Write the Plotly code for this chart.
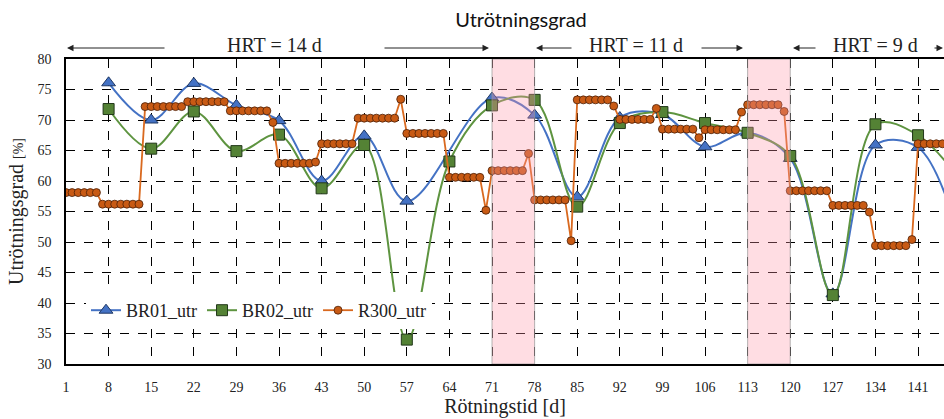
import plotly.graph_objects as go

# ---------------- data ----------------
days_weekly = [8, 15, 22, 29, 36, 43, 50, 57, 71, 78, 85, 92, 99, 106, 113, 120, 127, 134, 141, 148]
br01 = [76.1, 70.0, 76.0, 72.4, 69.9, 60.0, 67.4, 56.7, 73.6, 70.8, 57.4, 70.4, 70.9, 65.6, 67.9, 63.7, 41.5, 65.9, 65.5, 50.0]

days_br02 = [8, 15, 22, 29, 36, 43, 50, 57, 64, 71, 78, 85, 92, 99, 106, 113, 120, 127, 134, 141, 148]
br02 = [71.8, 65.3, 71.4, 64.9, 67.6, 58.8, 65.9, 34.0, 63.2, 72.4, 73.3, 55.8, 69.5, 71.3, 69.5, 67.9, 64.1, 41.3, 69.3, 67.5, 60.0]

days_r300 = list(range(1, 147))
r300 = [
    58.1, 58.1, 58.1, 58.1, 58.1, 58.1,                  # 1-6
    56.2, 56.2, 56.2, 56.2, 56.2, 56.2, 56.2,            # 7-13
    72.2, 72.2, 72.2, 72.2, 72.2, 72.2, 72.2,            # 14-20
    73.0, 73.0, 73.0, 73.0, 73.0, 73.0, 73.0,            # 21-27
    71.5, 71.5, 71.5, 71.5, 71.5, 71.5, 71.5,            # 28-34
    69.6,                                                # 35
    62.9, 62.9, 62.9, 62.9, 62.9, 62.9, 63.1,            # 36-42
    66.1, 66.1, 66.1, 66.1, 66.1, 66.1,                  # 43-48
    70.3, 70.3, 70.3, 70.3, 70.3, 70.3, 70.3,            # 49-55
    73.4,                                                # 56
    67.8, 67.8, 67.8, 67.8, 67.8, 67.8, 67.8,            # 57-63
    60.6, 60.6, 60.6, 60.6, 60.6, 60.6,                  # 64-69
    55.2,                                                # 70
    61.7, 61.7, 61.7, 61.7, 61.7, 61.7,                  # 71-76
    64.5,                                                # 77
    56.9, 56.9, 56.9, 56.9, 56.9, 56.9,                  # 78-83
    50.2,                                                # 84
    73.3, 73.3, 73.3, 73.3, 73.3, 73.3,                  # 85-90
    72.3,                                                # 91
    70.1, 70.1, 70.1, 70.1, 70.1, 70.1,                  # 92-97
    71.9,                                                # 98
    68.5, 68.5, 68.5, 68.5, 68.5, 68.5,                  # 99-104
    67.1,                                                # 105
    68.4, 68.4, 68.4, 68.4, 68.4, 68.4,                  # 106-111
    71.3,                                                # 112
    72.5, 72.5, 72.5, 72.5, 72.5, 72.5,                  # 113-118
    71.4,                                                # 119
    58.4, 58.4, 58.4, 58.4, 58.4, 58.4, 58.4,            # 120-126
    56.0, 56.0, 56.0, 56.0, 56.0, 56.0,                  # 127-132
    54.9,                                                # 133
    49.4, 49.4, 49.4, 49.4, 49.4, 49.4,                  # 134-139
    50.4,                                                # 140
    66.1, 66.1, 66.1, 66.1, 66.1, 66.1,                  # 141-146
]

x_ticks = [1, 8, 15, 22, 29, 36, 43, 50, 57, 64, 71, 78, 85, 92, 99, 106, 113, 120, 127, 134, 141]
shaded_periods = [(71, 78), (113, 120)]
hrt_labels = ["HRT = 14 d", "HRT = 11 d", "HRT = 9 d"]

# ---------------- layout geometry ----------------
W, H = 944, 419
ML, MR, MT, MB = 66, 0, 59, 55
PW = W - ML - MR
PH = H - MT - MB


def px_x(px):
    return (px - ML) / PW


def px_y(py):
    return (H - MB - py) / PH


serif = "Liberation Serif"

fig = go.Figure()

fig.add_trace(go.Scatter(
    x=days_weekly, y=br01, name="BR01_utr", mode="lines+markers",
    line=dict(color="#4472C4", width=2, shape="spline", smoothing=1),
    marker=dict(symbol="triangle-up", size=12, color="#4472C4", line=dict(color="#1F3864", width=1)),
))
fig.add_trace(go.Scatter(
    x=days_br02, y=br02, name="BR02_utr", mode="lines+markers",
    line=dict(color="#5E9440", width=2, shape="spline", smoothing=1),
    marker=dict(symbol="square", size=11, color="#548235", line=dict(color="#22381A", width=1)),
))
fig.add_trace(go.Scatter(
    x=days_r300, y=r300, name="R300_utr", mode="lines+markers",
    line=dict(color="#D9691F", width=1.8),
    marker=dict(symbol="circle", size=8, color="#C85A14", line=dict(color="#4A2008", width=0.8)),
))

for x0, x1 in shaded_periods:
    fig.add_shape(type="rect", xref="x", yref="y", x0=x0, x1=x1, y0=30, y1=80,
                  layer="above", fillcolor="rgba(255,150,168,0.32)",
                  line=dict(color="rgba(150,150,150,0.7)", width=1))

annotations = []
for txt, cx in zip(hrt_labels, [274, 636, 875]):
    annotations.append(dict(text=txt, xref="paper", yref="paper", x=px_x(cx), y=px_y(45),
                            showarrow=False, xanchor="center", yanchor="middle",
                            font=dict(family=serif, size=20, color="#222222")))
arrows = [(67, 166), (489, 383), (536, 573), (743, 700), (793, 817), (958, 933)]
for head, tail in arrows:
    annotations.append(dict(text="", xref="paper", yref="paper", x=px_x(head), y=px_y(48),
                            ax=tail - head, ay=0, showarrow=True, arrowhead=2, arrowsize=1.3,
                            arrowwidth=1, arrowcolor="#222222"))

fig.update_layout(
    width=W, height=H, autosize=False,
    margin=dict(l=ML, r=MR, t=MT, b=MB),
    paper_bgcolor="white", plot_bgcolor="white",
    font=dict(family=serif, color="#222222"),
    title=dict(text="Utrötningsgrad", x=521 / W, y=1 - 20 / H, xanchor="center", yanchor="middle",
               font=dict(family="Lato", size=20, color="#111111")),
    legend=dict(orientation="h", x=px_x(86), y=px_y(292), xanchor="left", yanchor="top",
                bgcolor="white", font=dict(family=serif, size=18, color="#222222"),
                itemwidth=30, tracegroupgap=0),
    annotations=annotations,
    xaxis=dict(range=[1, 1 + PW / 6.086], tickmode="array", tickvals=x_ticks,
               ticktext=[str(v) for v in x_ticks],
               showgrid=True, gridcolor="#000000", griddash="dash", gridwidth=1,
               showline=True, linecolor="#000000", linewidth=1.5, mirror=True,
               zeroline=False, ticks="", ticklabelstandoff=9,
               tickfont=dict(family=serif, size=14, color="#222222"),
               title=dict(text="Rötningstid [d]", standoff=4,
                          font=dict(family=serif, size=20, color="#222222"))),
    yaxis=dict(range=[30, 80], dtick=5, tick0=30,
               showgrid=True, gridcolor="#000000", griddash="dash", gridwidth=1,
               showline=True, linecolor="#000000", linewidth=1.5,
               zeroline=False, ticks="", ticklabelstandoff=10,
               tickfont=dict(family=serif, size=14, color="#222222"),
               title=dict(text="Utrötningsgrad <span style='font-size:14px'>[%]</span>", standoff=8,
                          font=dict(family=serif, size=20, color="#222222"))),
)

fig.write_html("out.html")
